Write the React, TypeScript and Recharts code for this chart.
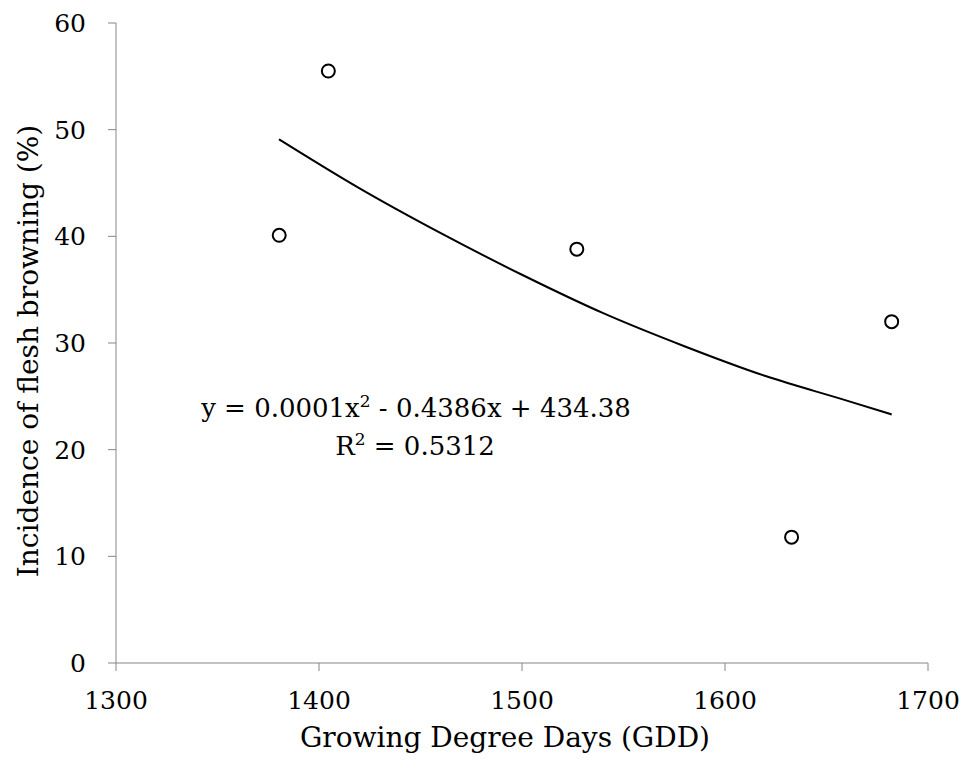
import React from 'react';
import { ComposedChart, Scatter, Line, XAxis, YAxis, Customized } from 'recharts';

const gddValues = [1380.4, 1404.6, 1527.0, 1632.8, 1682.1];
const browningValues = [40.1, 55.5, 38.8, 11.8, 32.0];

const trendGdd = [1380.3, 1420, 1460, 1500, 1540, 1580, 1620, 1660, 1682.1];
const trendBrowning = [49.1, 44.5, 40.3, 36.4, 32.8, 29.7, 26.9, 24.6, 23.3];

const xTicks = [1300, 1400, 1500, 1600, 1700];
const yTicks = [0, 10, 20, 30, 40, 50, 60];

const equationText = 'y = 0.0001x';
const equationRest = ' - 0.4386x + 434.38';
const r2Value = ' = 0.5312';

const points = gddValues.map((x, i) => ({ x, y: browningValues[i] }));
const trend = trendGdd.map((x, i) => ({ x, y: trendBrowning[i] }));

const FONT = '"DejaVu Serif", serif';
const FS = 25;
const TITLE_FS = 28;
const EQ_FS = 26;
const AXIS = '#868686';

const Equation = () => (
  <g fontFamily={FONT} fontSize={EQ_FS} fill="#000">
    <text x={416} y={417} textAnchor="middle">
      <tspan>{equationText}</tspan>
      <tspan fontSize={17} dy={-10}>2</tspan>
      <tspan dy={10}>{equationRest}</tspan>
    </text>
    <text x={415} y={455} textAnchor="middle">
      <tspan>R</tspan>
      <tspan fontSize={17} dy={-10}>2</tspan>
      <tspan dy={10}>{r2Value}</tspan>
    </text>
  </g>
);

export default function App() {
  return (
    <div style={{ position: 'absolute', left: 0, top: 0, background: '#fff' }}>
      <ComposedChart
        width={970}
        height={774}
        margin={{ top: 23, right: 42, bottom: 51, left: 0 }}
      >
        <XAxis
          type="number"
          dataKey="x"
          height={60}
          domain={[1300, 1700]}
          ticks={xTicks}
          allowDataOverflow
          stroke={AXIS}
          tickSize={8}
          tickMargin={20}
          tick={{ fill: '#000', fontSize: FS, fontFamily: FONT }}
          label={{
            content: (props: any) => (
              <text
                x={props.viewBox.x + props.viewBox.width / 2 - 17}
                y={747}
                textAnchor="middle"
                fontFamily={FONT}
                fontSize={TITLE_FS}
                fill="#000"
              >
                Growing Degree Days (GDD)
              </text>
            ),
          }}
        />
        <YAxis
          type="number"
          dataKey="y"
          width={116}
          domain={[0, 60]}
          ticks={yTicks}
          allowDataOverflow
          stroke={AXIS}
          tickSize={8}
          tickMargin={22}
          tick={{ fill: '#000', fontSize: FS, fontFamily: FONT }}
          label={{
            content: () => (
              <text
                x={38}
                y={351}
                transform="rotate(-90 38 351)"
                textAnchor="middle"
                fontFamily={FONT}
                fontSize={TITLE_FS}
                fill="#000"
              >
                Incidence of flesh browning (%)
              </text>
            ),
          }}
        />
        <Line
          data={trend}
          dataKey="y"
          type="monotone"
          stroke="#000"
          strokeWidth={2}
          dot={false}
          activeDot={false}
          isAnimationActive={false}
        />
        <Scatter
          data={points}
          dataKey="y"
          isAnimationActive={false}
          shape={(p: any) => (
            <circle cx={p.cx} cy={p.cy} r={6.5} fill="#fff" stroke="#000" strokeWidth={2} />
          )}
        />
        <Customized component={Equation} />
      </ComposedChart>
    </div>
  );
}
